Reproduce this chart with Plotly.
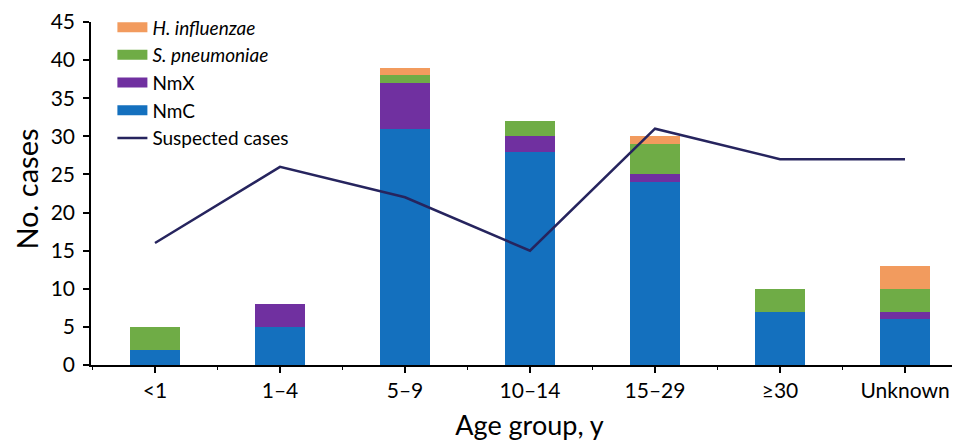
import plotly.graph_objects as go

categories = ["<1", "1\u20134", "5\u20139", "10\u201314", "15\u201329", "\u226530", "Unknown"]
nmc = [2, 5, 31, 28, 24, 7, 6]
nmx = [0, 3, 6, 2, 1, 0, 1]
s_pneu = [3, 0, 1, 2, 4, 3, 3]
h_infl = [0, 0, 1, 0, 1, 0, 3]
suspected = [16, 26, 22, 15, 31, 27, 27]
y_ticks = [0, 5, 10, 15, 20, 25, 30, 35, 40, 45]

c_nmc = "#1470BE"
c_nmx = "#7030A0"
c_sp = "#6FAC46"
c_hi = "#F29B5E"
c_line = "#26245E"

x = list(range(len(categories)))
fig = go.Figure()
for name, vals, col in [("NmC", nmc, c_nmc), ("NmX", nmx, c_nmx),
                        ("S. pneumoniae", s_pneu, c_sp), ("H. influenzae", h_infl, c_hi)]:
    fig.add_trace(go.Bar(x=x, y=vals, name=name, marker=dict(color=col, line=dict(width=0)),
                         width=0.4, showlegend=False))
fig.add_trace(go.Scatter(x=x, y=suspected, mode="lines", name="Suspected cases",
                         line=dict(color=c_line, width=2.5), showlegend=False))

# legend proxies
legend_items = [("<i>H. influenzae</i>", c_hi, 12), ("<i>S. pneumoniae</i>", c_sp, 12),
                ("NmX", c_nmx, 12), ("NmC", c_nmc, 12), ("Suspected cases", c_line, 2.5)]
for i, (lbl, col, w) in enumerate(legend_items):
    fig.add_trace(go.Scatter(x=[None], y=[None], mode="lines", name=lbl,
                             line=dict(color=col, width=w), legendrank=i + 1))

fig.update_layout(
    width=960, height=442,
    margin=dict(l=83, r=0, t=12, b=85),
    barmode="stack",
    plot_bgcolor="white", paper_bgcolor="white",
    font=dict(family="Lato, Open Sans, sans-serif", color="black"),
    legend=dict(x=0.0244, y=1.04, xanchor="left", yanchor="top", bgcolor="rgba(0,0,0,0)",
                font=dict(size=19), itemwidth=30, tracegroupgap=0, traceorder="normal"),
    xaxis=dict(tickmode="array", tickvals=x, ticktext=categories, range=[-0.512, 6.504],
               automargin=False,
               showline=True, linecolor="black", linewidth=1.5, ticks="outside",
               ticklen=6, tickwidth=1.5, tickcolor="black", showgrid=False, zeroline=False,
               tickfont=dict(size=21),
               minor=dict(tickmode="linear", tick0=0.5, dtick=1, ticks="outside", ticklen=3,
                          tickwidth=1, tickcolor="black", showgrid=False),
               title=dict(text="Age group, y", font=dict(size=27), standoff=15)),
    yaxis=dict(range=[0, 45], tickmode="array", tickvals=y_ticks, showline=True,
               automargin=False, ticklabelstandoff=4,
               linecolor="black", linewidth=1.5, ticks="outside", ticklen=6, tickwidth=1.5,
               tickcolor="black", showgrid=False, zeroline=False, tickfont=dict(size=21)),
    annotations=[dict(text="No. cases", xref="paper", yref="paper", x=-0.0735, y=0.513,
                      xanchor="center", yanchor="middle", textangle=-90, showarrow=False,
                      borderpad=0, font=dict(size=29))],
)
fig.write_html("out.html")
